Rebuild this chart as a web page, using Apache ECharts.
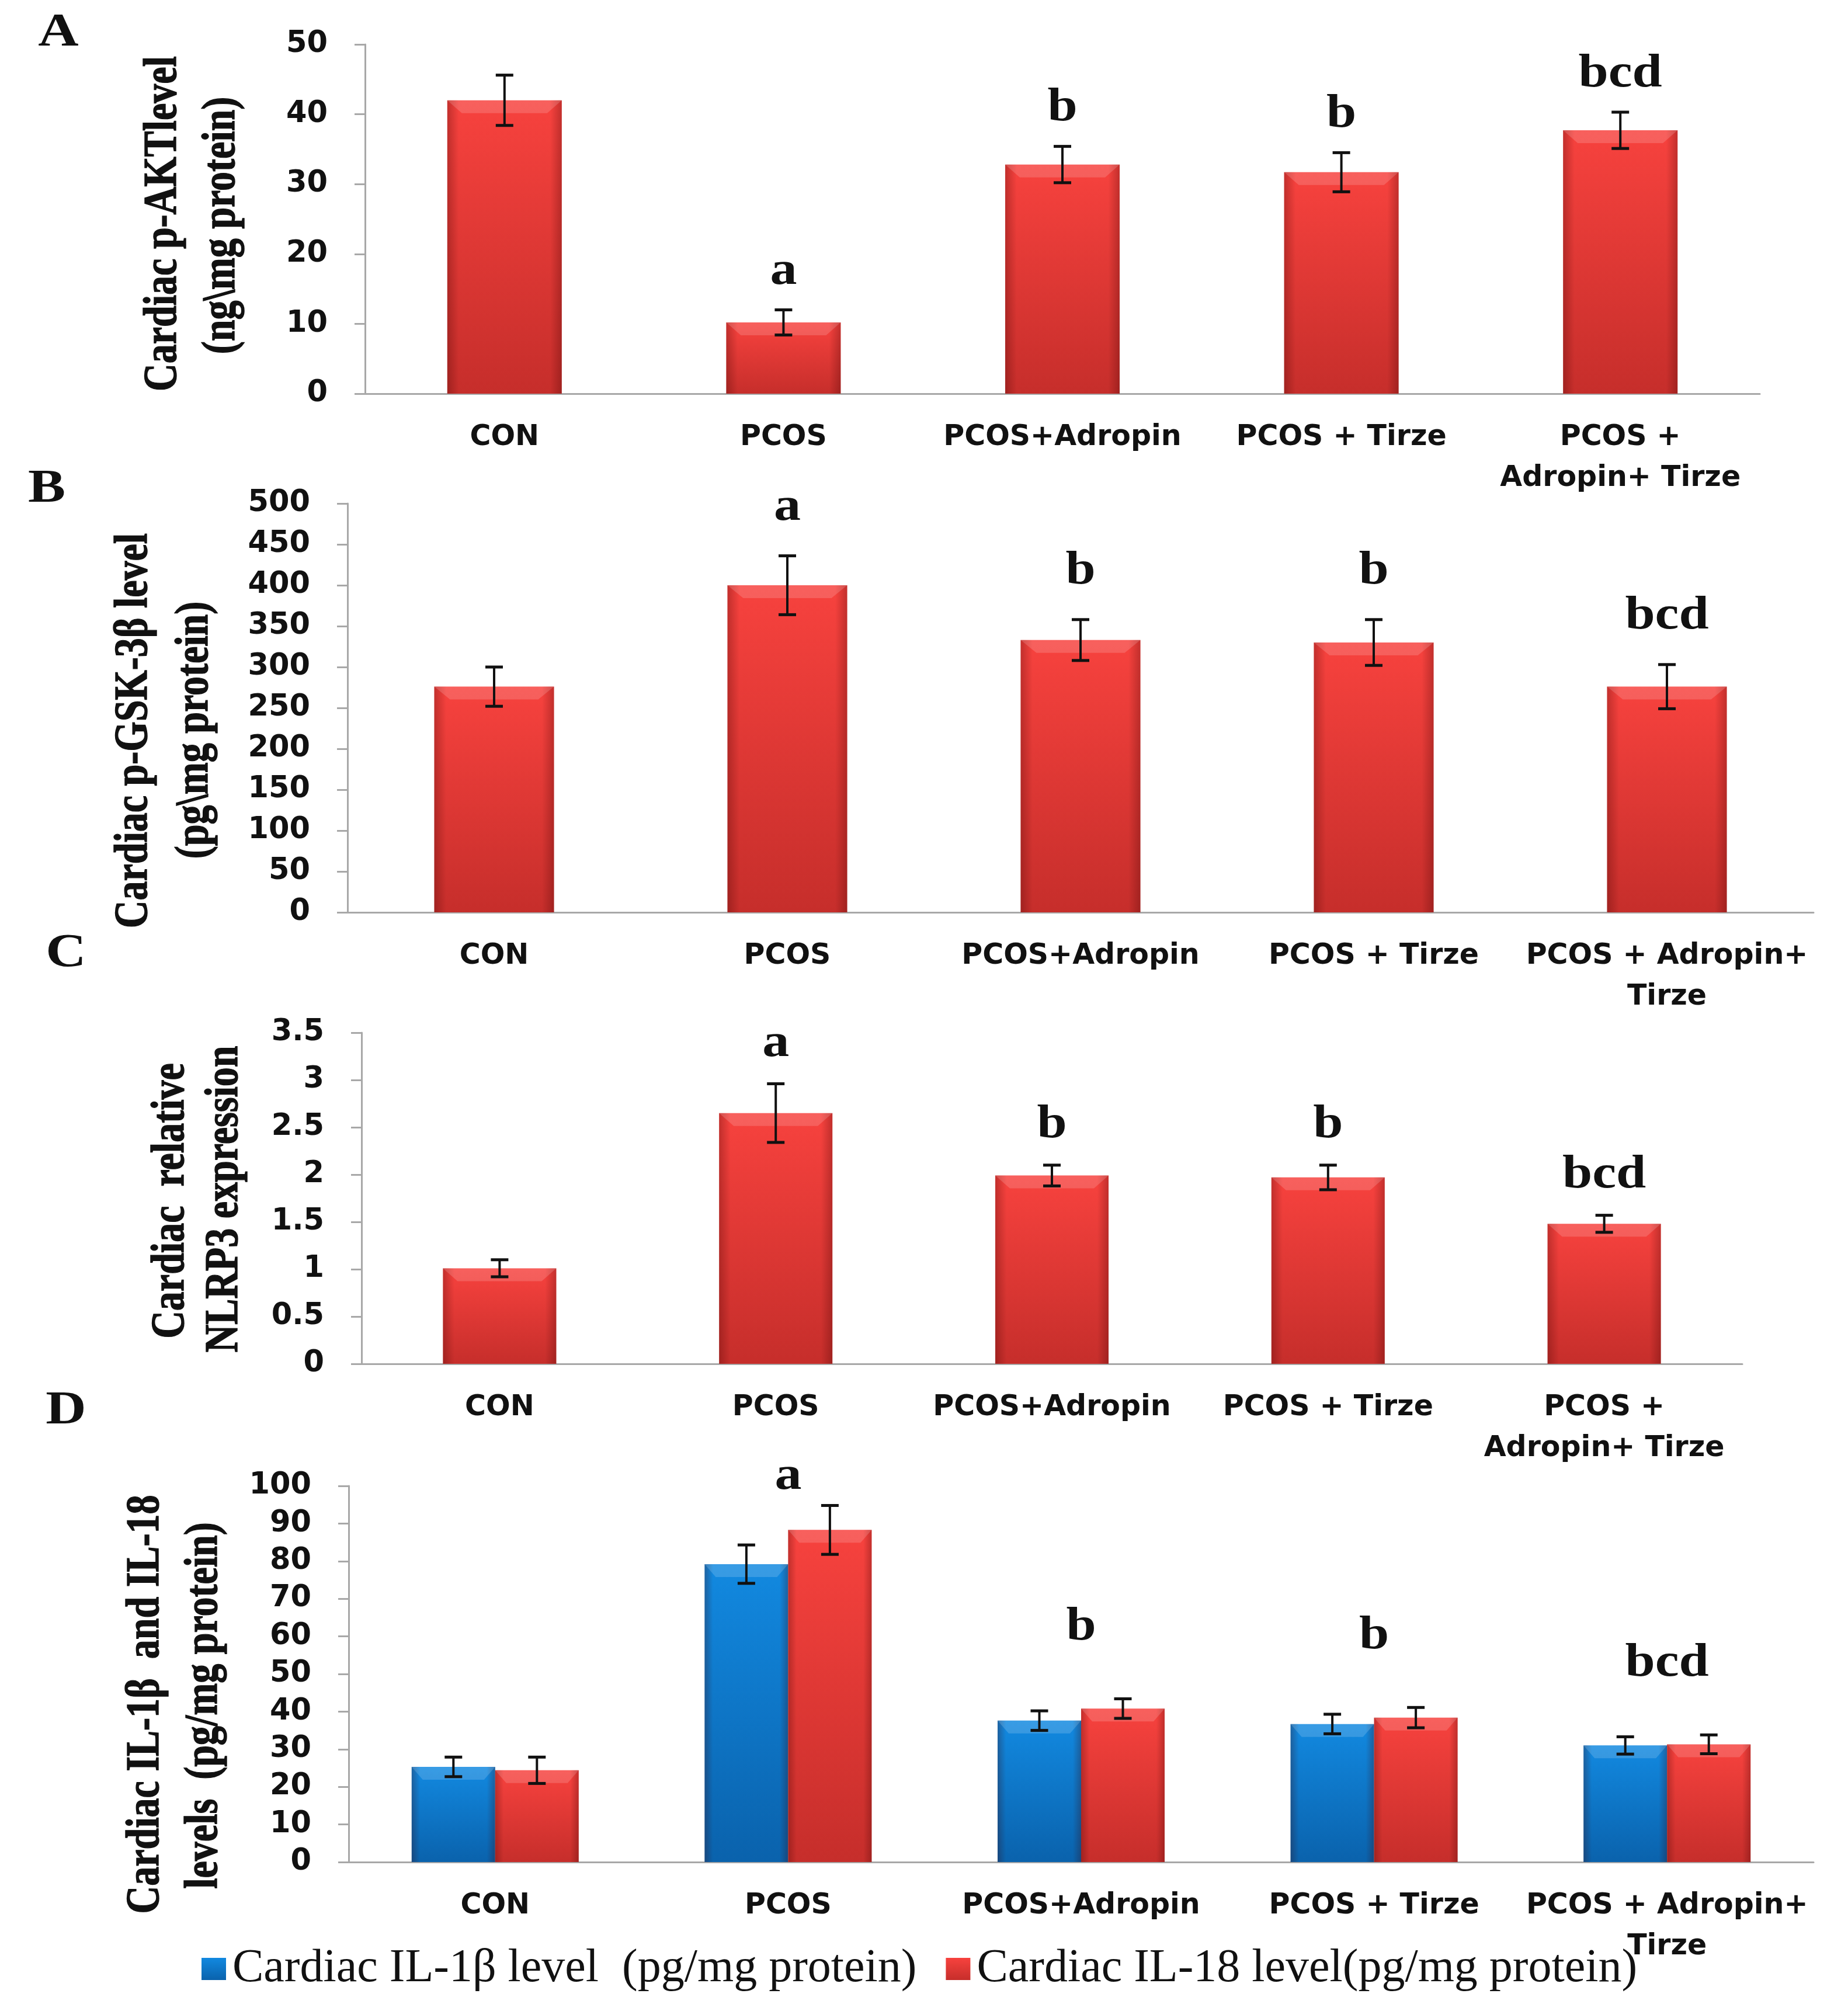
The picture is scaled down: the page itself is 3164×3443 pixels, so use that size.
<!DOCTYPE html>
<html>
<head>
<meta charset="utf-8">
<script src="https://cdn.jsdelivr.net/npm/echarts@6/dist/echarts.min.js"></script>
<style>
  html, body { margin: 0; background: #fff; }
  #main { width: 3164px; height: 3443px; }
</style>
</head>
<body>
<div id="main"></div>
<script>
// group labels (line breaks as in the figure)
const catsA = ['CON', 'PCOS', 'PCOS+Adropin', 'PCOS + Tirze', 'PCOS +\nAdropin+ Tirze'];
const catsB = ['CON', 'PCOS', 'PCOS+Adropin', 'PCOS + Tirze', 'PCOS + Adropin+\nTirze'];
const catsC = ['CON', 'PCOS', 'PCOS+Adropin', 'PCOS + Tirze', 'PCOS +\nAdropin+ Tirze'];
const catsD = ['CON', 'PCOS', 'PCOS+Adropin', 'PCOS + Tirze', 'PCOS + Adropin+\nTirze'];

// A: p-AKT (ng/mg protein)
const aktMean = [42.0, 10.2, 32.8, 31.7, 37.7];
const aktErr  = [3.6, 1.8, 2.6, 2.8, 2.6];
// B: p-GSK-3β (pg/mg protein)
const gskMean = [276, 400, 333, 330, 276];
const gskErr  = [24, 36, 25, 28, 27];
// C: NLRP3 relative expression
const nlrpMean = [1.01, 2.65, 1.99, 1.97, 1.48];
const nlrpErr  = [0.09, 0.31, 0.11, 0.13, 0.09];
// D: IL-1β and IL-18 (pg/mg protein)
const il1bMean = [25.3, 79.2, 37.6, 36.7, 31.0];
const il1bErr  = [2.6, 5.1, 2.6, 2.6, 2.3];
const il18Mean = [24.4, 88.3, 40.8, 38.4, 31.3];
const il18Err  = [3.5, 6.5, 2.6, 2.7, 2.5];

// significance letters
const letters = ['', 'a', 'b', 'b', 'bcd'];

// axis ranges [max, step]
const yA = [50, 10];
const yB = [500, 50];
const yC = [3.5, 0.5];
const yD = [100, 10];

const il1bName = 'Cardiac IL-1β level  (pg/mg protein)';
const il18Name = 'Cardiac IL-18 level(pg/mg protein)';

const myChart = echarts.init(document.getElementById('main'));

const SANS = 'DejaVu Sans';
const SERIF = 'Liberation Serif';
const axisGrey = '#a8a8a8';

function redFill() {
  return new echarts.graphic.LinearGradient(0, 0, 0, 1, [
    { offset: 0, color: '#f7423e' },
    { offset: 1, color: '#c62e2b' }
  ]);
}
function blueFill() {
  return new echarts.graphic.LinearGradient(0, 0, 0, 1, [
    { offset: 0, color: '#1289e0' },
    { offset: 1, color: '#0a62ac' }
  ]);
}

function xAx(gi, cats) {
  return {
    gridIndex: gi, type: 'category', data: cats,
    axisTick: { show: false },
    axisLine: { lineStyle: { color: axisGrey, width: 3 } },
    axisLabel: {
      interval: 0, margin: 40, lineHeight: 70,
      fontFamily: SANS, fontWeight: 'bold', fontSize: 49, color: '#111'
    }
  };
}
function yAx(gi, r) {
  return {
    gridIndex: gi, type: 'value', min: 0, max: r[0], interval: r[1],
    splitLine: { show: false },
    axisLine: { show: true, lineStyle: { color: axisGrey, width: 3 } },
    axisTick: { show: true, length: 18, lineStyle: { color: axisGrey, width: 3 } },
    axisLabel: { margin: 64, fontFamily: SANS, fontWeight: 'bold', fontSize: 51, color: '#111' }
  };
}

// bevel + side shading + error bar drawn over each bar
function overlay(barW, shift) {
  return function (params, api) {
    const i = api.value(0), v = api.value(1), e = api.value(2);
    const base = api.coord([i, 0]);
    const top = api.coord([i, v]);
    const cx = base[0] + shift * barW;
    const x0 = cx - barW / 2;
    const yHi = api.coord([i, v + e])[1];
    const yLo = api.coord([i, v - e])[1];
    const bev = Math.round(barW * 0.13), bevH = 22, cap = 15;
    return {
      type: 'group',
      children: [
        {
          type: 'rect',
          shape: { x: x0, y: top[1], width: barW, height: base[1] - top[1] },
          style: {
            fill: new echarts.graphic.LinearGradient(0, 0, 1, 0, [
              { offset: 0, color: 'rgba(60,0,0,0.28)' },
              { offset: 0.1, color: 'rgba(60,0,0,0)' },
              { offset: 0.9, color: 'rgba(60,0,0,0)' },
              { offset: 1, color: 'rgba(60,0,0,0.28)' }
            ])
          }
        },
        {
          type: 'polygon',
          shape: { points: [[x0, top[1]], [x0 + barW, top[1]], [x0 + barW - bev, top[1] + bevH], [x0 + bev, top[1] + bevH]] },
          style: { fill: 'rgba(255,255,255,0.16)' }
        },
        { type: 'line', shape: { x1: cx, y1: yHi, x2: cx, y2: yLo }, style: { stroke: '#111', lineWidth: 4 } },
        { type: 'line', shape: { x1: cx - cap, y1: yHi, x2: cx + cap, y2: yHi }, style: { stroke: '#111', lineWidth: 5 } },
        { type: 'line', shape: { x1: cx - cap, y1: yLo, x2: cx + cap, y2: yLo }, style: { stroke: '#111', lineWidth: 5 } }
      ]
    };
  };
}

// letters sit a gap above the highest error cap, but never above the plot top
function letterRender(gap, yMax) {
  return function (params, api) {
    const p = api.coord([api.value(0), api.value(1)]);
    const topPix = api.coord([0, yMax])[1];
    return {
      type: 'text',
      x: p[0], y: Math.max(p[1] - gap, topPix + 24),
      scaleX: 1.15,
      style: {
        text: letters[params.dataIndex], x: 0, y: 0,
        align: 'center', verticalAlign: 'bottom',
        font: 'bold 80px "' + SERIF + '"', fill: '#111'
      }
    };
  };
}

function barSeries(gi, name, mean, fill, w) {
  return {
    name: name, type: 'bar', xAxisIndex: gi, yAxisIndex: gi,
    data: mean, barWidth: w, barGap: '0%',
    itemStyle: { color: fill }, animation: false
  };
}
function overlaySeries(gi, mean, err, w, shift) {
  return {
    type: 'custom', xAxisIndex: gi, yAxisIndex: gi, clip: false, z: 5,
    renderItem: overlay(w, shift),
    data: mean.map((v, i) => [i, v, err[i]]),
    silent: true, animation: false
  };
}
function letterSeries(gi, tops, gap, yMax) {
  return {
    type: 'custom', xAxisIndex: gi, yAxisIndex: gi, clip: false, z: 6,
    renderItem: letterRender(gap, yMax),
    data: tops.map((t, i) => [i, t]),
    silent: true, animation: false
  };
}
function tops(pairs) {
  return pairs[0][0].map((_, i) => Math.max(...pairs.map(p => p[0][i] + p[1][i])));
}

function vText(x, y, text) {
  return {
    type: 'text', x: x, y: y, rotation: Math.PI / 2, scaleY: 1.22,
    style: {
      text: text, font: 'bold 66px "' + SERIF + '"', fill: '#111',
      stroke: '#111', lineWidth: 1.2, align: 'center', verticalAlign: 'middle'
    }
  };
}
function panelLetter(x, y, text) {
  return {
    type: 'text', x: x, y: y, scaleX: 1.2,
    style: { text: text, font: 'bold 80px "' + SERIF + '"', fill: '#111', align: 'center', verticalAlign: 'middle' }
  };
}

const option = {
  backgroundColor: '#fff',
  animation: false,
  grid: [
    { left: 625, top: 76, width: 2388, height: 598 },
    { left: 595, top: 862, width: 2510, height: 700 },
    { left: 619, top: 1768, width: 2364, height: 567 },
    { left: 597, top: 2544, width: 2508, height: 644 }
  ],
  xAxis: [xAx(0, catsA), xAx(1, catsB), xAx(2, catsC), xAx(3, catsD)],
  yAxis: [yAx(0, yA), yAx(1, yB), yAx(2, yC), yAx(3, yD)],
  legend: {
    data: [il1bName, il18Name],
    left: 340, top: 3326,
    itemWidth: 42, itemHeight: 38, itemGap: 50,
    icon: 'rect',
    textStyle: { fontFamily: SERIF, fontSize: 80, color: '#111', padding: [0, 0, 0, 6] }
  },
  graphic: [
    panelLetter(100, 57, 'A'),
    panelLetter(80, 838, 'B'),
    panelLetter(113, 1633, 'C'),
    panelLetter(113, 2416, 'D'),
    vText(280, 383, 'Cardiac p-AKTlevel'),
    vText(380, 386, '(ng\\mg protein)'),
    vText(230, 1251, 'Cardiac p-GSK-3β level'),
    vText(334, 1250, '(pg\\mg protein)'),
    vText(293, 2056, 'Cardiac  relative'),
    vText(385, 2053, 'NLRP3 expression'),
    vText(250, 2918, 'Cardiac IL-1β  and IL-18'),
    vText(350, 2920, 'levels  (pg/mg protein)')
  ],
  series: [
    barSeries(0, 'akt', aktMean, redFill(), 196),
    overlaySeries(0, aktMean, aktErr, 196, 0),
    letterSeries(0, tops([[aktMean, aktErr]]), 25, yA[0]),

    barSeries(1, 'gsk', gskMean, redFill(), 205),
    overlaySeries(1, gskMean, gskErr, 205, 0),
    letterSeries(1, tops([[gskMean, gskErr]]), 42, yB[0]),

    barSeries(2, 'nlrp3', nlrpMean, redFill(), 194),
    overlaySeries(2, nlrpMean, nlrpErr, 194, 0),
    letterSeries(2, tops([[nlrpMean, nlrpErr]]), 28, yC[0]),

    barSeries(3, il1bName, il1bMean, blueFill(), 143),
    barSeries(3, il18Name, il18Mean, redFill(), 143),
    overlaySeries(3, il1bMean, il1bErr, 143, -0.5),
    overlaySeries(3, il18Mean, il18Err, 143, 0.5),
    letterSeries(3, tops([[il1bMean, il1bErr], [il18Mean, il18Err]]), 82, yD[0])
  ]
};

myChart.setOption(option);
window.addEventListener('resize', function () {
  myChart.resize();
});
</script>
</body>
</html>
